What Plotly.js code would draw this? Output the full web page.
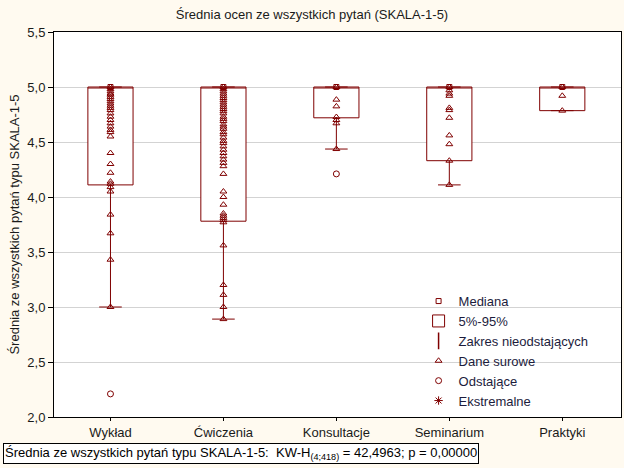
<!DOCTYPE html>
<html>
<head>
<meta charset="utf-8">
<script src="https://cdn.plot.ly/plotly-3.0.1.min.js"></script>
<style>html,body{margin:0;padding:0;background:#FFFAF0;}#chart{width:624px;height:468px;}</style>
</head>
<body>
<div id="chart"></div>
<script>
// Categories
var categories = ["Wykład", "Ćwiczenia", "Konsultacje", "Seminarium", "Praktyki"];

// Box statistics (5%-95% box, non-outlier range whiskers, median)
var boxLow = [4.11, 3.78, 4.72, 4.33, 4.785];
var boxHigh = [5.0, 5.0, 5.0, 5.0, 5.0];
var medians = [5.0, 5.0, 5.0, 5.0, 5.0];
var whiskerLow = [3.0, 2.89, 4.436, 4.11, 4.785];
var whiskerHigh = [5.0, 5.0, 5.0, 5.0, 5.0];

// Raw data (distinct visible values per category)
var rawWyklad = [5.00, 4.98, 4.96, 4.94, 4.93, 4.91, 4.89, 4.87, 4.85, 4.83, 4.81, 4.79, 4.76, 4.73, 4.70, 4.67, 4.64, 4.61, 4.59, 4.55,
                 4.40, 4.30, 4.22, 4.14, 4.12, 4.09, 4.05, 3.84, 3.67, 3.43, 3.00];
var rawCwiczenia = [5.00, 4.98, 4.96, 4.94, 4.92, 4.90, 4.88, 4.86, 4.84, 4.82, 4.80, 4.78, 4.76, 4.73, 4.71, 4.69, 4.66, 4.64, 4.62,
                    4.59, 4.57, 4.54, 4.51, 4.49, 4.46, 4.43, 4.40, 4.37, 4.34, 4.31, 4.28, 4.21, 4.05, 4.00, 3.93,
                    3.85, 3.83, 3.81, 3.79, 3.77, 3.56, 3.20, 3.11, 3.00, 2.89];
var rawKonsultacje = [5.00, 4.885, 4.824, 4.727, 4.70, 4.67, 4.436];
var rawSeminarium = [5.00, 4.97, 4.94, 4.92, 4.81, 4.79, 4.72, 4.56, 4.48, 4.33, 4.11];
var rawPraktyki = [5.00, 4.92, 4.785];

// Outliers and extremes
var outlierCats = ["Wykład", "Konsultacje"];
var outlierVals = [2.21, 4.21];
var extremeCats = [null];
var extremeVals = [null];

var maroon = "#7f0000";
var rawSets = [rawWyklad, rawCwiczenia, rawKonsultacje, rawSeminarium, rawPraktyki];
var rawX = [], rawY = [];
rawSets.forEach(function(arr, i){ arr.forEach(function(v){ rawX.push(categories[i]); rawY.push(v); }); });

var font = "Liberation Sans, Arial, sans-serif";
var txt = "#1a1a1a";
var xRange = [-0.5, 4.52];

var traces = [
  {
    type: "box", name: "5%-95%", x: categories,
    q1: boxLow, median: medians, q3: boxHigh,
    lowerfence: whiskerLow, upperfence: whiskerHigh,
    boxpoints: false, width: 0.4, whiskerwidth: 0.5,
    line: {color: maroon, width: 1}, fillcolor: "#ffffff",
    hoverinfo: "skip", legendrank: 2
  },
  {
    type: "scatter", mode: "markers", name: "Mediana", x: categories, y: medians,
    marker: {symbol: "square-open", size: 5, color: maroon, line: {width: 1, color: maroon}},
    legendrank: 1
  },
  {
    type: "scatter", mode: "markers", name: "Zakres nieodstających", x: [null], y: [null],
    marker: {symbol: "line-ns-open", size: 12, color: maroon, line: {width: 1.5, color: maroon}},
    legendrank: 3
  },
  {
    type: "scatter", mode: "markers", name: "Dane surowe", x: rawX, y: rawY,
    marker: {symbol: "triangle-up-open", size: 6, color: maroon, line: {width: 1, color: maroon}},
    legendrank: 4
  },
  {
    type: "scatter", mode: "markers", name: "Odstające", x: outlierCats, y: outlierVals,
    marker: {symbol: "circle-open", size: 6, color: maroon, line: {width: 1, color: maroon}},
    legendrank: 5
  },
  {
    type: "scatter", mode: "markers", name: "Ekstremalne", x: extremeCats, y: extremeVals,
    marker: {symbol: "asterisk-open", size: 7, color: maroon, line: {width: 1, color: maroon}},
    legendrank: 6
  }
];

var layout = {
  width: 624, height: 468,
  paper_bgcolor: "#FFFAF0", plot_bgcolor: "#ffffff",
  margin: {l: 54, r: 3, t: 32, b: 51},
  separators: ", ",
  font: {family: font, size: 13, color: txt},
  title: {text: "Średnia ocen ze wszystkich pytań (SKALA-1-5)", font: {family: font, size: 13, color: txt},
          xref: "container", x: 0.5, xanchor: "center", yref: "container", y: 0.97, yanchor: "middle"},
  xaxis: {
    type: "category", categoryarray: categories, range: xRange,
    showline: true, linecolor: "#000", linewidth: 1, mirror: true,
    ticks: "outside", ticklen: 3, tickcolor: "#000", showgrid: false, zeroline: false,
    tickfont: {family: font, size: 13, color: txt}
  },
  xaxis2: {
    overlaying: "x", side: "top", anchor: "y", range: xRange,
    tickvals: categories.map(function(c, i){ return i; }),
    ticks: "inside", ticklen: 3, tickcolor: "#000",
    showticklabels: false, showgrid: false, zeroline: false, showline: false
  },
  yaxis: {
    range: [2, 5.5], dtick: 0.5, tickformat: ".1f",
    showline: true, linecolor: "#000", linewidth: 1, mirror: true,
    ticks: "outside", ticklen: 5, tickcolor: "#000",
    showgrid: true, gridcolor: "#d3d3d3", gridwidth: 1, zeroline: false,
    tickfont: {family: font, size: 13, color: txt},
    title: {text: "Średnia ze wszystkich pytań typu SKALA-1-5", font: {family: font, size: 13, color: txt}, standoff: 4}
  },
  showlegend: true,
  legend: {
    x: 0.643, xanchor: "left", y: 0.34, yanchor: "top",
    bgcolor: "rgba(0,0,0,0)", borderwidth: 0,
    font: {family: font, size: 13, color: "#1c1c3c"},
    traceorder: "normal", itemwidth: 30, tracegroupgap: 0
  },
  annotations: [{
    xref: "paper", yref: "paper", x: -0.09, y: -0.096, xanchor: "left", yanchor: "middle",
    text: "Średnia ze wszystkich pytań typu SKALA-1-5:  KW-H<sub>(4;418)</sub> = 42,4963; p = 0,00000",
    showarrow: false, bgcolor: "#ffffff", bordercolor: "#000", borderwidth: 1, borderpad: 1,
    font: {family: font, size: 13, color: "#000"}
  }]
};

Plotly.newPlot("chart", traces, layout, {displayModeBar: false, staticPlot: true});
</script>
</body>
</html>
